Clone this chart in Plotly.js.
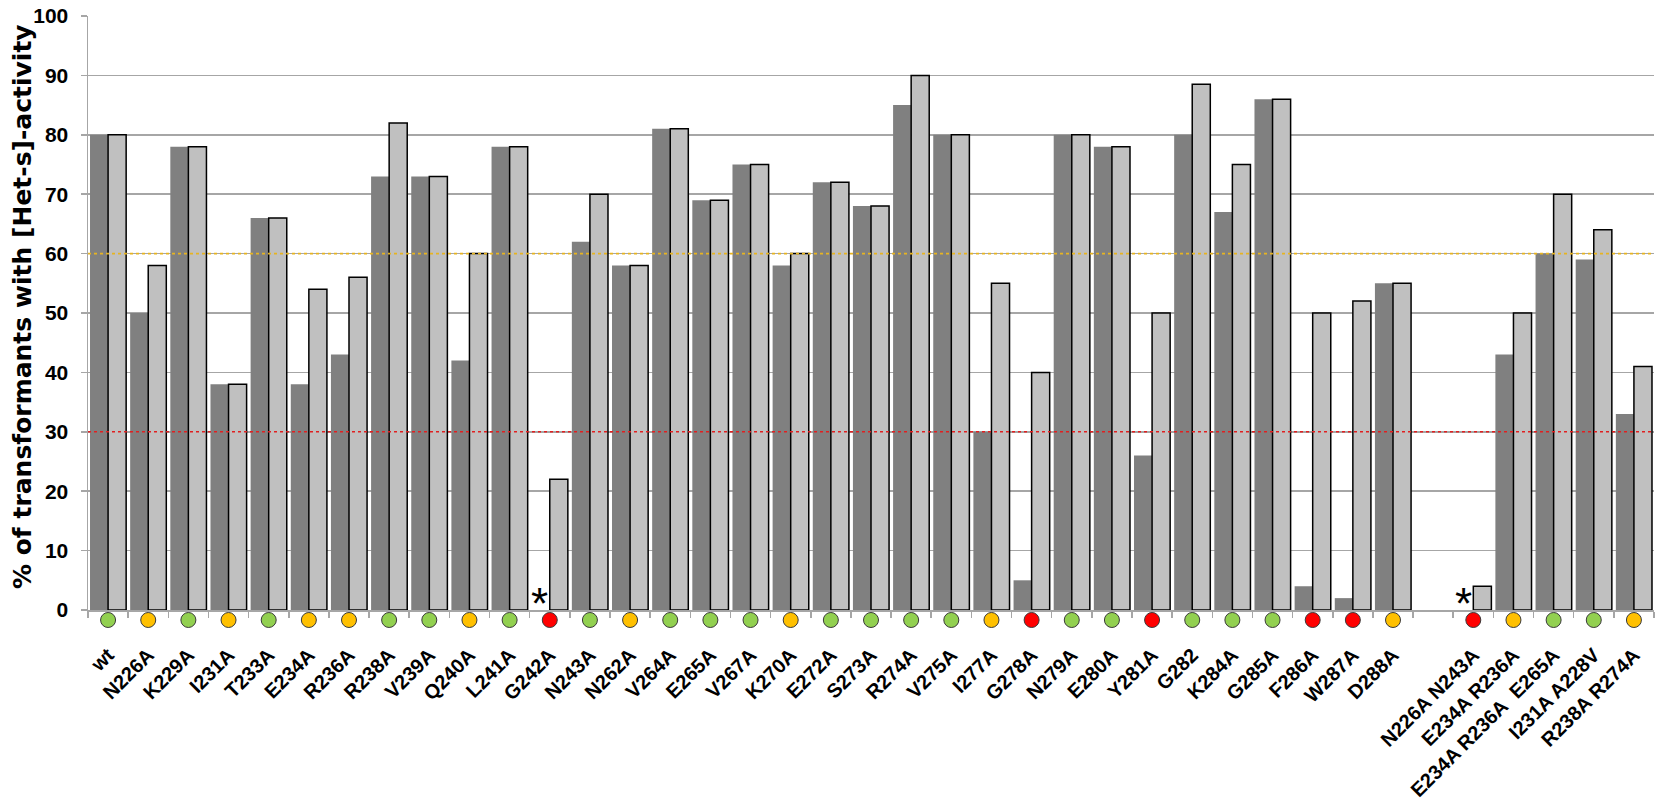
<!DOCTYPE html>
<html>
<head>
<meta charset="utf-8">
<script src="https://cdn.plot.ly/plotly-3.0.1.min.js"></script>
<style>html,body{margin:0;padding:0;background:#fff;}#chart{width:1663px;height:800px;}</style>
</head>
<body>
<div id="chart"></div>
<script>
// ---- data ----
const categories = ['wt','N226A','K229A','I231A','T233A','E234A','R236A','R238A','V239A','Q240A','L241A','G242A','N243A','N262A','V264A','E265A','V267A','K270A','E272A','S273A','R274A','V275A','I277A','G278A','N279A','E280A','Y281A','G282','K284A','G285A','F286A','W287A','D288A',' ','N226A N243A','E234A R236A','E234A R236A\u00a0 E265A','I231A A228V','R238A R274A'];
const darkValues  = [80,50,78,38,66,38,43,73,73,42,78,0,62,58,81,69,75,58,72,68,85,80,30,5,80,78,26,80,67,86,4,2,55,null,0,43,60,59,33];
const lightValues = [80,58,78,38,66,54,56,82,73,60,78,22,70,58,81,69,75,60,72,68,90,80,55,40,80,78,50,88.5,75,86,50,52,55,null,4,50,70,64,41];
const status = ['g','o','g','o','g','o','o','g','g','o','g','r','g','o','g','g','g','o','g','g','g','g','o','r','g','g','r','g','g','g','r','r','o',null,'r','o','g','g','o'];
const starred = ['G242A','N226A N243A'];
const thresholds = [60, 30];

// ---- styles ----
const statusColor = {g:'#92d050', o:'#ffc000', r:'#ff0000'};
const thresholdColor = ['#e6b422', '#e02020'];
const gridGray = '#a6a6a6';

const traces = [
  {type:'bar', x:categories, y:darkValues, marker:{color:'#808080', line:{width:0}}, hoverinfo:'x+y'},
  {type:'bar', x:categories, y:lightValues, marker:{color:'#c0c0c0', line:{color:'#000000', width:1.5}}, hoverinfo:'x+y'}
];

const shapes = thresholds.map((t,i)=>({type:'line', xref:'paper', x0:0, x1:1, yref:'y', y0:t, y1:t,
  line:{color:thresholdColor[i], width:1.6, dash:'dot'}, layer:'above'}));

// status dots below the axis (one per category that has a status)
categories.forEach((c,i)=>{
  if(!status[i]) return;
  shapes.push({type:'circle', layer:'above',
    xref:'x', xsizemode:'pixel', xanchor:i, x0:-7.5, x1:7.5,
    yref:'paper', ysizemode:'pixel', yanchor:0, y0:-17.5, y1:-2.5,
    fillcolor:statusColor[status[i]], line:{color:'#3a3a3a', width:1}});
});

const annotations = starred.map(c=>({x:c, y:0, xref:'x', yref:'y', text:'*', showarrow:false,
  yanchor:'bottom', xshift:-10, yshift:-20, font:{family:'Liberation Sans, Arial', size:44, color:'#000'}}));

const layout = {
  width:1663, height:800,
  margin:{l:88, r:9, t:16, b:190},
  paper_bgcolor:'#ffffff', plot_bgcolor:'#ffffff',
  barmode:'group', bargap:0.1, bargroupgap:0,
  showlegend:false,
  font:{family:'Liberation Sans, Arial', color:'#000'},
  xaxis:{type:'category', categoryorder:'array', categoryarray:categories,
    range:[-0.5, categories.length-0.5], autorange:false,
    tickson:'boundaries', ticks:'outside', ticklen:6, tickcolor:gridGray, tickwidth:1.5,
    showline:true, linecolor:gridGray, linewidth:1.5, showgrid:false,
    tickangle:-45, ticklabelstandoff:24,
    tickfont:{family:'Liberation Sans, Arial', size:20, weight:'bold', color:'#000'}},
  yaxis:{range:[0,100], autorange:false, dtick:10, tick0:0, showgrid:true, gridcolor:gridGray, gridwidth:1.5,
    zeroline:false, showline:true, linecolor:gridGray, linewidth:1.5,
    ticks:'outside', ticklen:6, tickcolor:gridGray, tickwidth:1.5, ticklabelstandoff:8,
    tickfont:{family:'Liberation Sans, Arial', size:21, weight:'bold', color:'#000'}},
  shapes:shapes,
  annotations:annotations.concat([{
    xref:'paper', yref:'paper', x:0, y:0.51, xanchor:'center', yanchor:'middle', xshift:-66,
    text:'% of transformants with [Het-s]-activity', textangle:-90, showarrow:false,
    font:{family:'DejaVu Sans', size:25, weight:'bold', color:'#000'}}])
};

Plotly.newPlot('chart', traces, layout, {displayModeBar:false, staticPlot:true});
</script>
</body>
</html>
